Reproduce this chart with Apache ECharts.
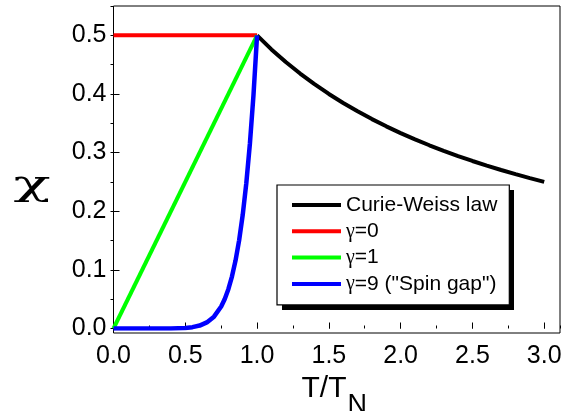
<!DOCTYPE html>
<html>
<head>
<meta charset="utf-8">
<script src="https://cdn.jsdelivr.net/npm/echarts@6/dist/echarts.min.js"></script>
<style>
html,body{margin:0;padding:0;background:#fff;}
#chart{width:562px;height:411px;}
</style>
</head>
<body>
<div id="chart"></div>
<script>
// ---- data ----
var seriesNames = ['Curie-Weiss law', 'γ=0', 'γ=1', 'γ=9 ("Spin gap")'];

var cwT   = [1.0, 1.1, 1.2, 1.3, 1.4, 1.5, 1.6, 1.7, 1.8, 1.9, 2.0, 2.1, 2.2, 2.3, 2.4, 2.5, 2.6, 2.7, 2.8, 2.9, 3.0];
var cwChi = [0.5, 0.476, 0.4545, 0.4348, 0.4167, 0.4, 0.3846, 0.3704, 0.3571, 0.3448, 0.3333, 0.3226, 0.3125, 0.303, 0.2941, 0.2857, 0.2778, 0.2703, 0.2632, 0.2564, 0.25];

var g0T   = [0, 1.0];
var g0Chi = [0.5, 0.5];

var g1T   = [0, 1.0];
var g1Chi = [0, 0.5];

var g9T   = [0, 0.1, 0.2, 0.3, 0.4, 0.5, 0.55, 0.6, 0.65, 0.7, 0.75, 0.775, 0.8, 0.825, 0.85, 0.875, 0.9, 0.925, 0.95, 0.975, 1.0];
var g9Chi = [0, 0, 0, 0, 0.0001, 0.001, 0.0023, 0.005, 0.0104, 0.0202, 0.0375, 0.0504, 0.0671, 0.0885, 0.1158, 0.1503, 0.1937, 0.2478, 0.3151, 0.3981, 0.5];

var xTicks = [0, 0.5, 1.0, 1.5, 2.0, 2.5, 3.0];
var yTicks = [0, 0.1, 0.2, 0.3, 0.4, 0.5];
var yTitle = 'χ';

function pairs(xs, ys) { return xs.map(function (x, i) { return [x, ys[i]]; }); }

var FONT = '"Liberation Sans", Arial, sans-serif';
var SERIF = '"Liberation Serif", "Times New Roman", serif';

var chart = echarts.init(document.getElementById('chart'), null, {renderer: 'canvas'});

function fmt(v) {
  for (var i = 0; i < xTicks.length; i++) if (Math.abs(xTicks[i] - v) < 1e-9) return v.toFixed(1);
  return '';
}
function fmtY(v) {
  for (var i = 0; i < yTicks.length; i++) if (Math.abs(yTicks[i] - v) < 1e-9) return v.toFixed(1);
  return '';
}

var option = {
  animation: false,
  backgroundColor: '#fff',
  grid: [
    {left: 113.5, top: 6, width: 446.5, height: 322.5, show: false, containLabel: false, outerBoundsMode: 'none'},
    {left: 113.5, top: 6, width: 446.5, height: 327, show: true, borderColor: '#000', borderWidth: 1, backgroundColor: 'transparent', containLabel: false, outerBoundsMode: 'none'}
  ],
  xAxis: [
    {
      type: 'value', gridIndex: 0, min: 0, max: 3.11, interval: 0.5, position: 'bottom', offset: 4.5,
      axisLine: {show: false},
      axisTick: {show: true, inside: true, length: 6, lineStyle: {color: '#000', width: 1}},
      axisLabel: {show: true, margin: 11, color: '#000', fontSize: 25, fontFamily: FONT, formatter: fmt, showMaxLabel: false},
      splitLine: {show: false},
      name: '{t|T/T}{s|N}', nameLocation: 'middle', nameGap: 35,
      nameTextStyle: {
        color: '#000', fontFamily: FONT,
        rich: {
          t: {fontSize: 30, lineHeight: 30, fontFamily: FONT, color: '#000', verticalAlign: 'top'},
          s: {fontSize: 27, lineHeight: 27, fontFamily: FONT, color: '#000', verticalAlign: 'top', padding: [18, 5, 0, 1]}
        }
      }
    },
    {
      type: 'value', gridIndex: 0, min: 0, max: 3.11, interval: 0.25, position: 'bottom', offset: 4.5,
      axisLine: {show: false},
      axisTick: {show: true, inside: true, length: 3, lineStyle: {color: '#000', width: 1}},
      axisLabel: {show: false},
      splitLine: {show: false}
    },
    {
      type: 'value', gridIndex: 1, min: 0, max: 1, show: false
    }
  ],
  yAxis: [
    {
      type: 'value', gridIndex: 0, min: 0, max: 0.55, interval: 0.1,
      axisLine: {show: false},
      axisTick: {show: true, inside: true, length: 6, lineStyle: {color: '#000', width: 1}},
      axisLabel: {show: true, margin: 7, color: '#000', fontSize: 25, fontFamily: FONT, formatter: fmtY, showMaxLabel: false},
      splitLine: {show: false}
    },
    {
      type: 'value', gridIndex: 0, min: 0, max: 0.55, interval: 0.05,
      axisLine: {show: false},
      axisTick: {show: true, inside: true, length: 3, lineStyle: {color: '#000', width: 1}},
      axisLabel: {show: false},
      splitLine: {show: false}
    },
    {
      type: 'value', gridIndex: 1, min: 0, max: 1, show: false
    }
  ],
  legend: {
    show: true,
    orient: 'vertical',
    left: 277, top: 185,
    padding: [9.5, 12, 10.5, 15],
    itemGap: 5.3,
    itemWidth: 49, itemHeight: 4,
    icon: 'rect',
    backgroundColor: '#fff',
    borderColor: '#000', borderWidth: 1.2,
    z: 10,
    textStyle: {
      color: '#000', fontSize: 21, lineHeight: 21, fontFamily: FONT,
      rich: {
        g: {fontSize: 20, lineHeight: 21, fontFamily: SERIF, color: '#000'},
        n: {fontSize: 21, lineHeight: 21, fontFamily: FONT, color: '#000'}
      }
    },
    formatter: function (name) {
      if (name.charAt(0) === 'γ') return '{g|γ}{n|' + name.slice(1) + '}';
      return name;
    },
    data: seriesNames
  },
  graphic: [
    {type: 'rect', z: 9, silent: true, shape: {x: 282, y: 190, width: 232, height: 120}, style: {fill: '#000'}},
    {type: 'text', z: 10, silent: true, x: 32, y: 186, scaleX: 1.7, scaleY: 1,
     style: {text: yTitle, font: '36px "DejaVu Serif", serif', fill: '#000', textAlign: 'center', textVerticalAlign: 'middle'}}
  ],
  series: [
    {name: seriesNames[0], type: 'line', xAxisIndex: 0, yAxisIndex: 0, data: pairs(cwT, cwChi), symbol: 'none', showSymbol: false, color: '#000', lineStyle: {color: '#000', width: 4}, z: 3},
    {name: seriesNames[1], type: 'line', xAxisIndex: 0, yAxisIndex: 0, data: pairs(g0T, g0Chi), symbol: 'none', showSymbol: false, color: '#ff0000', lineStyle: {color: '#ff0000', width: 4}, z: 4},
    {name: seriesNames[2], type: 'line', xAxisIndex: 0, yAxisIndex: 0, data: pairs(g1T, g1Chi), symbol: 'none', showSymbol: false, color: '#00ff00', lineStyle: {color: '#00ff00', width: 4}, z: 5},
    {name: seriesNames[3], type: 'line', xAxisIndex: 0, yAxisIndex: 0, data: pairs(g9T, g9Chi), symbol: 'none', showSymbol: false, color: '#0000ff', lineStyle: {color: '#0000ff', width: 4.5}, z: 6}
  ]
};
chart.setOption(option);
</script>
</body>
</html>
